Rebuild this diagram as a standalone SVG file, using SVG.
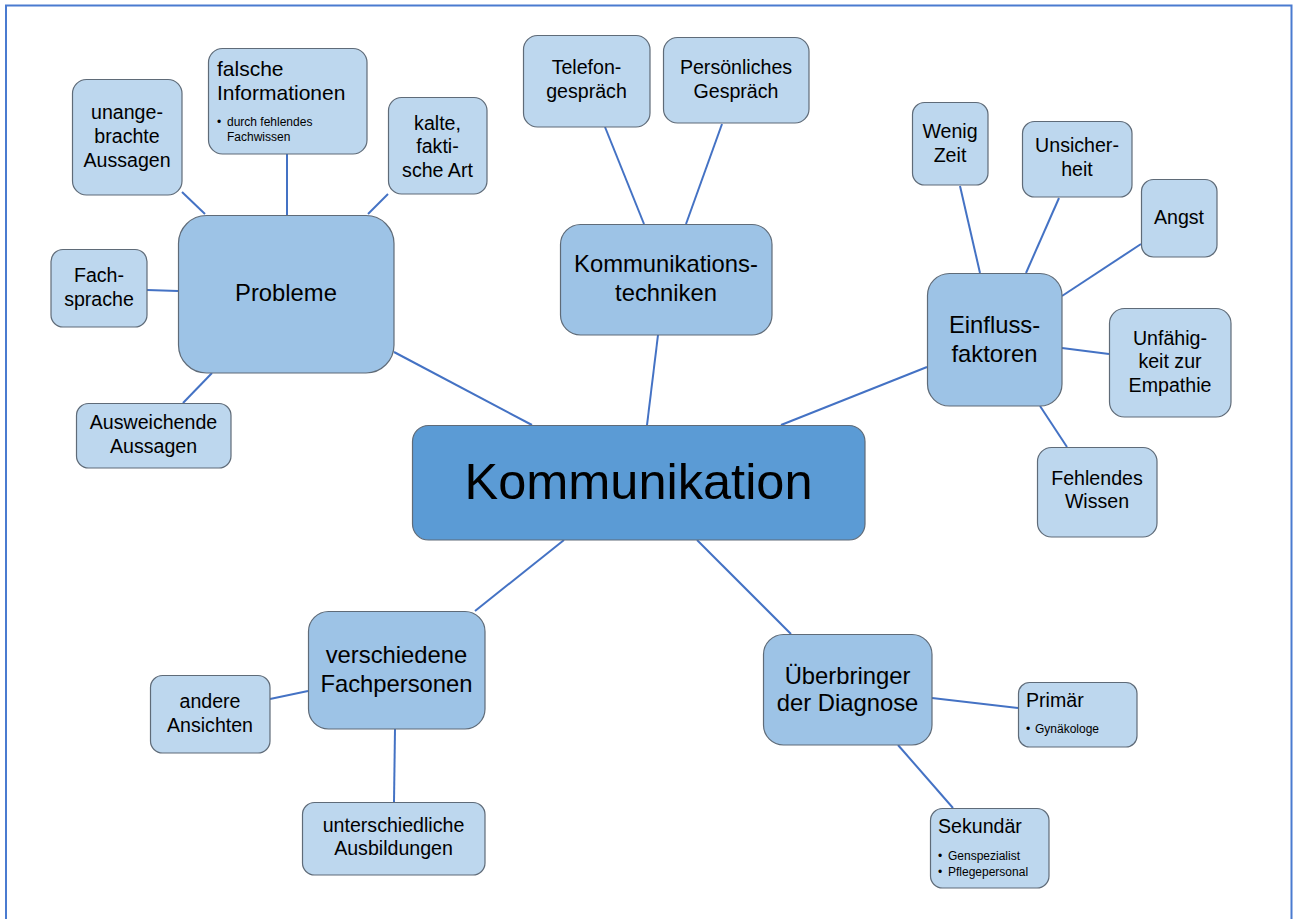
<svg xmlns="http://www.w3.org/2000/svg" width="1293" height="919" viewBox="0 0 1293 919">
  <style>
    text { font-family: "Liberation Sans", Arial, sans-serif; fill: #000; }
    .box { stroke: #5f6b78; stroke-width: 1.2; }
    .root { fill: #5b9bd5; }
    .mid { fill: #9dc3e6; }
    .leaf { fill: #bdd7ee; }
    .t-root { font-size: 50.5px; text-anchor: middle; }
    .t-mid { font-size: 23.8px; text-anchor: middle; }
    .t-leaf { font-size: 19.6px; text-anchor: middle; }
    .t-head { font-size: 19.6px; }
    .t-small { font-size: 12px; }
    .links line { stroke: #4472c4; stroke-width: 2; }
  </style>

  <rect width="1293" height="919" fill="#ffffff"/>
  <!-- page frame (open at the bottom) -->
  <path d="M6,919 V5.5 H1291.5 V919" fill="none" stroke="#4a7bd0" stroke-width="2"/>

  <!-- connectors -->
  <g id="connectors" class="links">
    <line x1="394" y1="352" x2="532" y2="425"/>
    <line x1="658" y1="335" x2="647" y2="425"/>
    <line x1="927" y1="367" x2="781" y2="425"/>
    <line x1="475" y1="611" x2="564" y2="540"/>
    <line x1="697" y1="540" x2="791" y2="634"/>

    <line x1="182" y1="192" x2="205" y2="214"/>
    <line x1="287" y1="154" x2="287" y2="215"/>
    <line x1="388" y1="194" x2="368" y2="214"/>
    <line x1="147" y1="290" x2="178" y2="291"/>
    <line x1="183" y1="403" x2="212" y2="373"/>

    <line x1="605" y1="127" x2="644" y2="224"/>
    <line x1="722" y1="124" x2="686" y2="224"/>

    <line x1="960" y1="186" x2="980" y2="273"/>
    <line x1="1059" y1="198" x2="1026" y2="273"/>
    <line x1="1141" y1="244" x2="1062" y2="296"/>
    <line x1="1062" y1="348" x2="1109" y2="354"/>
    <line x1="1040" y1="406" x2="1067" y2="447"/>

    <line x1="270" y1="699" x2="308" y2="691"/>
    <line x1="395" y1="729" x2="394" y2="802"/>

    <line x1="932" y1="698" x2="1018" y2="708"/>
    <line x1="898" y1="745" x2="953" y2="808"/>
  </g>

  <!-- central topic -->
  <g id="kommunikation">
    <rect class="box root" x="412.5" y="425.5" width="452.5" height="114.5" rx="16"/>
    <text class="t-root" x="638.5" y="499">Kommunikation</text>
  </g>

  <!-- Probleme branch -->
  <g id="probleme">
    <rect class="box mid" x="178.5" y="215.5" width="215.5" height="157.5" rx="28"/>
    <text class="t-mid" x="286" y="301">Probleme</text>
  </g>
  <g id="unangebrachte-aussagen">
    <rect class="box leaf" x="72.5" y="79.5" width="109.5" height="115.5" rx="14"/>
    <text class="t-leaf" x="127" y="119">unange-</text>
    <text class="t-leaf" x="127" y="143">brachte</text>
    <text class="t-leaf" x="127" y="167">Aussagen</text>
  </g>
  <g id="falsche-informationen">
    <rect class="box leaf" x="208.5" y="48.5" width="158.5" height="105.5" rx="14"/>
    <text class="t-head" x="217" y="76" style="font-size:21px">falsche</text>
    <text class="t-head" x="217" y="100" style="font-size:21px">Informationen</text>
    <text class="t-small" x="217" y="126">•</text>
    <text class="t-small" x="227" y="126">durch fehlendes</text>
    <text class="t-small" x="227" y="141">Fachwissen</text>
  </g>
  <g id="kalte-faktische-art">
    <rect class="box leaf" x="388.5" y="97.5" width="98.5" height="96.5" rx="13"/>
    <text class="t-leaf" x="437.5" y="130">kalte,</text>
    <text class="t-leaf" x="437.5" y="153">fakti-</text>
    <text class="t-leaf" x="437.5" y="177">sche Art</text>
  </g>
  <g id="fachsprache">
    <rect class="box leaf" x="51" y="249.5" width="96" height="77.5" rx="12"/>
    <text class="t-leaf" x="99" y="282">Fach-</text>
    <text class="t-leaf" x="99" y="306">sprache</text>
  </g>
  <g id="ausweichende-aussagen">
    <rect class="box leaf" x="76.5" y="403.5" width="154.5" height="64.5" rx="12"/>
    <text class="t-leaf" x="153.5" y="429">Ausweichende</text>
    <text class="t-leaf" x="153.5" y="453">Aussagen</text>
  </g>

  <!-- Kommunikationstechniken branch -->
  <g id="kommunikationstechniken">
    <rect class="box mid" x="560.5" y="224.5" width="211.5" height="110.5" rx="20"/>
    <text class="t-mid" x="666" y="272">Kommunikations-</text>
    <text class="t-mid" x="666" y="301">techniken</text>
  </g>
  <g id="telefongespraech">
    <rect class="box leaf" x="523.5" y="35.5" width="126.5" height="91.5" rx="14"/>
    <text class="t-leaf" x="586.5" y="74">Telefon-</text>
    <text class="t-leaf" x="586.5" y="98">gespräch</text>
  </g>
  <g id="persoenliches-gespraech">
    <rect class="box leaf" x="663.5" y="37.5" width="145.5" height="85.5" rx="14"/>
    <text class="t-leaf" x="736" y="74">Persönliches</text>
    <text class="t-leaf" x="736" y="98">Gespräch</text>
  </g>

  <!-- Einflussfaktoren branch -->
  <g id="einflussfaktoren">
    <rect class="box mid" x="927.5" y="273.5" width="134.5" height="132.5" rx="22"/>
    <text class="t-mid" x="994.5" y="333">Einfluss-</text>
    <text class="t-mid" x="994.5" y="362">faktoren</text>
  </g>
  <g id="wenig-zeit">
    <rect class="box leaf" x="912.5" y="102.5" width="75.5" height="82.5" rx="12"/>
    <text class="t-leaf" x="950" y="138">Wenig</text>
    <text class="t-leaf" x="950" y="162">Zeit</text>
  </g>
  <g id="unsicherheit">
    <rect class="box leaf" x="1022.5" y="121.5" width="109.5" height="75.5" rx="12"/>
    <text class="t-leaf" x="1077" y="152">Unsicher-</text>
    <text class="t-leaf" x="1077" y="176">heit</text>
  </g>
  <g id="angst">
    <rect class="box leaf" x="1141.5" y="179.5" width="75.5" height="77.5" rx="12"/>
    <text class="t-leaf" x="1179" y="224">Angst</text>
  </g>
  <g id="unfaehigkeit-zur-empathie">
    <rect class="box leaf" x="1109.5" y="308.5" width="121.5" height="108.5" rx="15"/>
    <text class="t-leaf" x="1170" y="345">Unfähig-</text>
    <text class="t-leaf" x="1170" y="368">keit zur</text>
    <text class="t-leaf" x="1170" y="392">Empathie</text>
  </g>
  <g id="fehlendes-wissen">
    <rect class="box leaf" x="1037.5" y="447.5" width="119.5" height="89.5" rx="14"/>
    <text class="t-leaf" x="1097" y="485">Fehlendes</text>
    <text class="t-leaf" x="1097" y="508">Wissen</text>
  </g>

  <!-- verschiedene Fachpersonen branch -->
  <g id="verschiedene-fachpersonen">
    <rect class="box mid" x="308.5" y="611.5" width="176.5" height="117.5" rx="20"/>
    <text class="t-mid" x="396.5" y="663">verschiedene</text>
    <text class="t-mid" x="396.5" y="692">Fachpersonen</text>
  </g>
  <g id="andere-ansichten">
    <rect class="box leaf" x="150.5" y="675.5" width="119.5" height="77.5" rx="12"/>
    <text class="t-leaf" x="210" y="708">andere</text>
    <text class="t-leaf" x="210" y="732">Ansichten</text>
  </g>
  <g id="unterschiedliche-ausbildungen">
    <rect class="box leaf" x="302.5" y="802.5" width="182.5" height="72.5" rx="12"/>
    <text class="t-leaf" x="393.5" y="832">unterschiedliche</text>
    <text class="t-leaf" x="393.5" y="855">Ausbildungen</text>
  </g>

  <!-- Überbringer der Diagnose branch -->
  <g id="ueberbringer-der-diagnose">
    <rect class="box mid" x="763.5" y="634.5" width="168.5" height="110.5" rx="20"/>
    <text class="t-mid" x="847.5" y="684">Überbringer</text>
    <text class="t-mid" x="847.5" y="711">der Diagnose</text>
  </g>
  <g id="primaer">
    <rect class="box leaf" x="1018.5" y="682.5" width="118.5" height="64.5" rx="11"/>
    <text class="t-head" x="1026" y="707">Primär</text>
    <text class="t-small" x="1026" y="733">•</text>
    <text class="t-small" x="1035" y="733">Gynäkologe</text>
  </g>
  <g id="sekundaer">
    <rect class="box leaf" x="930.5" y="808.5" width="118.5" height="79.5" rx="12"/>
    <text class="t-head" x="938" y="833">Sekundär</text>
    <text class="t-small" x="938" y="860">•</text>
    <text class="t-small" x="948" y="860">Genspezialist</text>
    <text class="t-small" x="938" y="876">•</text>
    <text class="t-small" x="948" y="876">Pflegepersonal</text>
  </g>
</svg>
